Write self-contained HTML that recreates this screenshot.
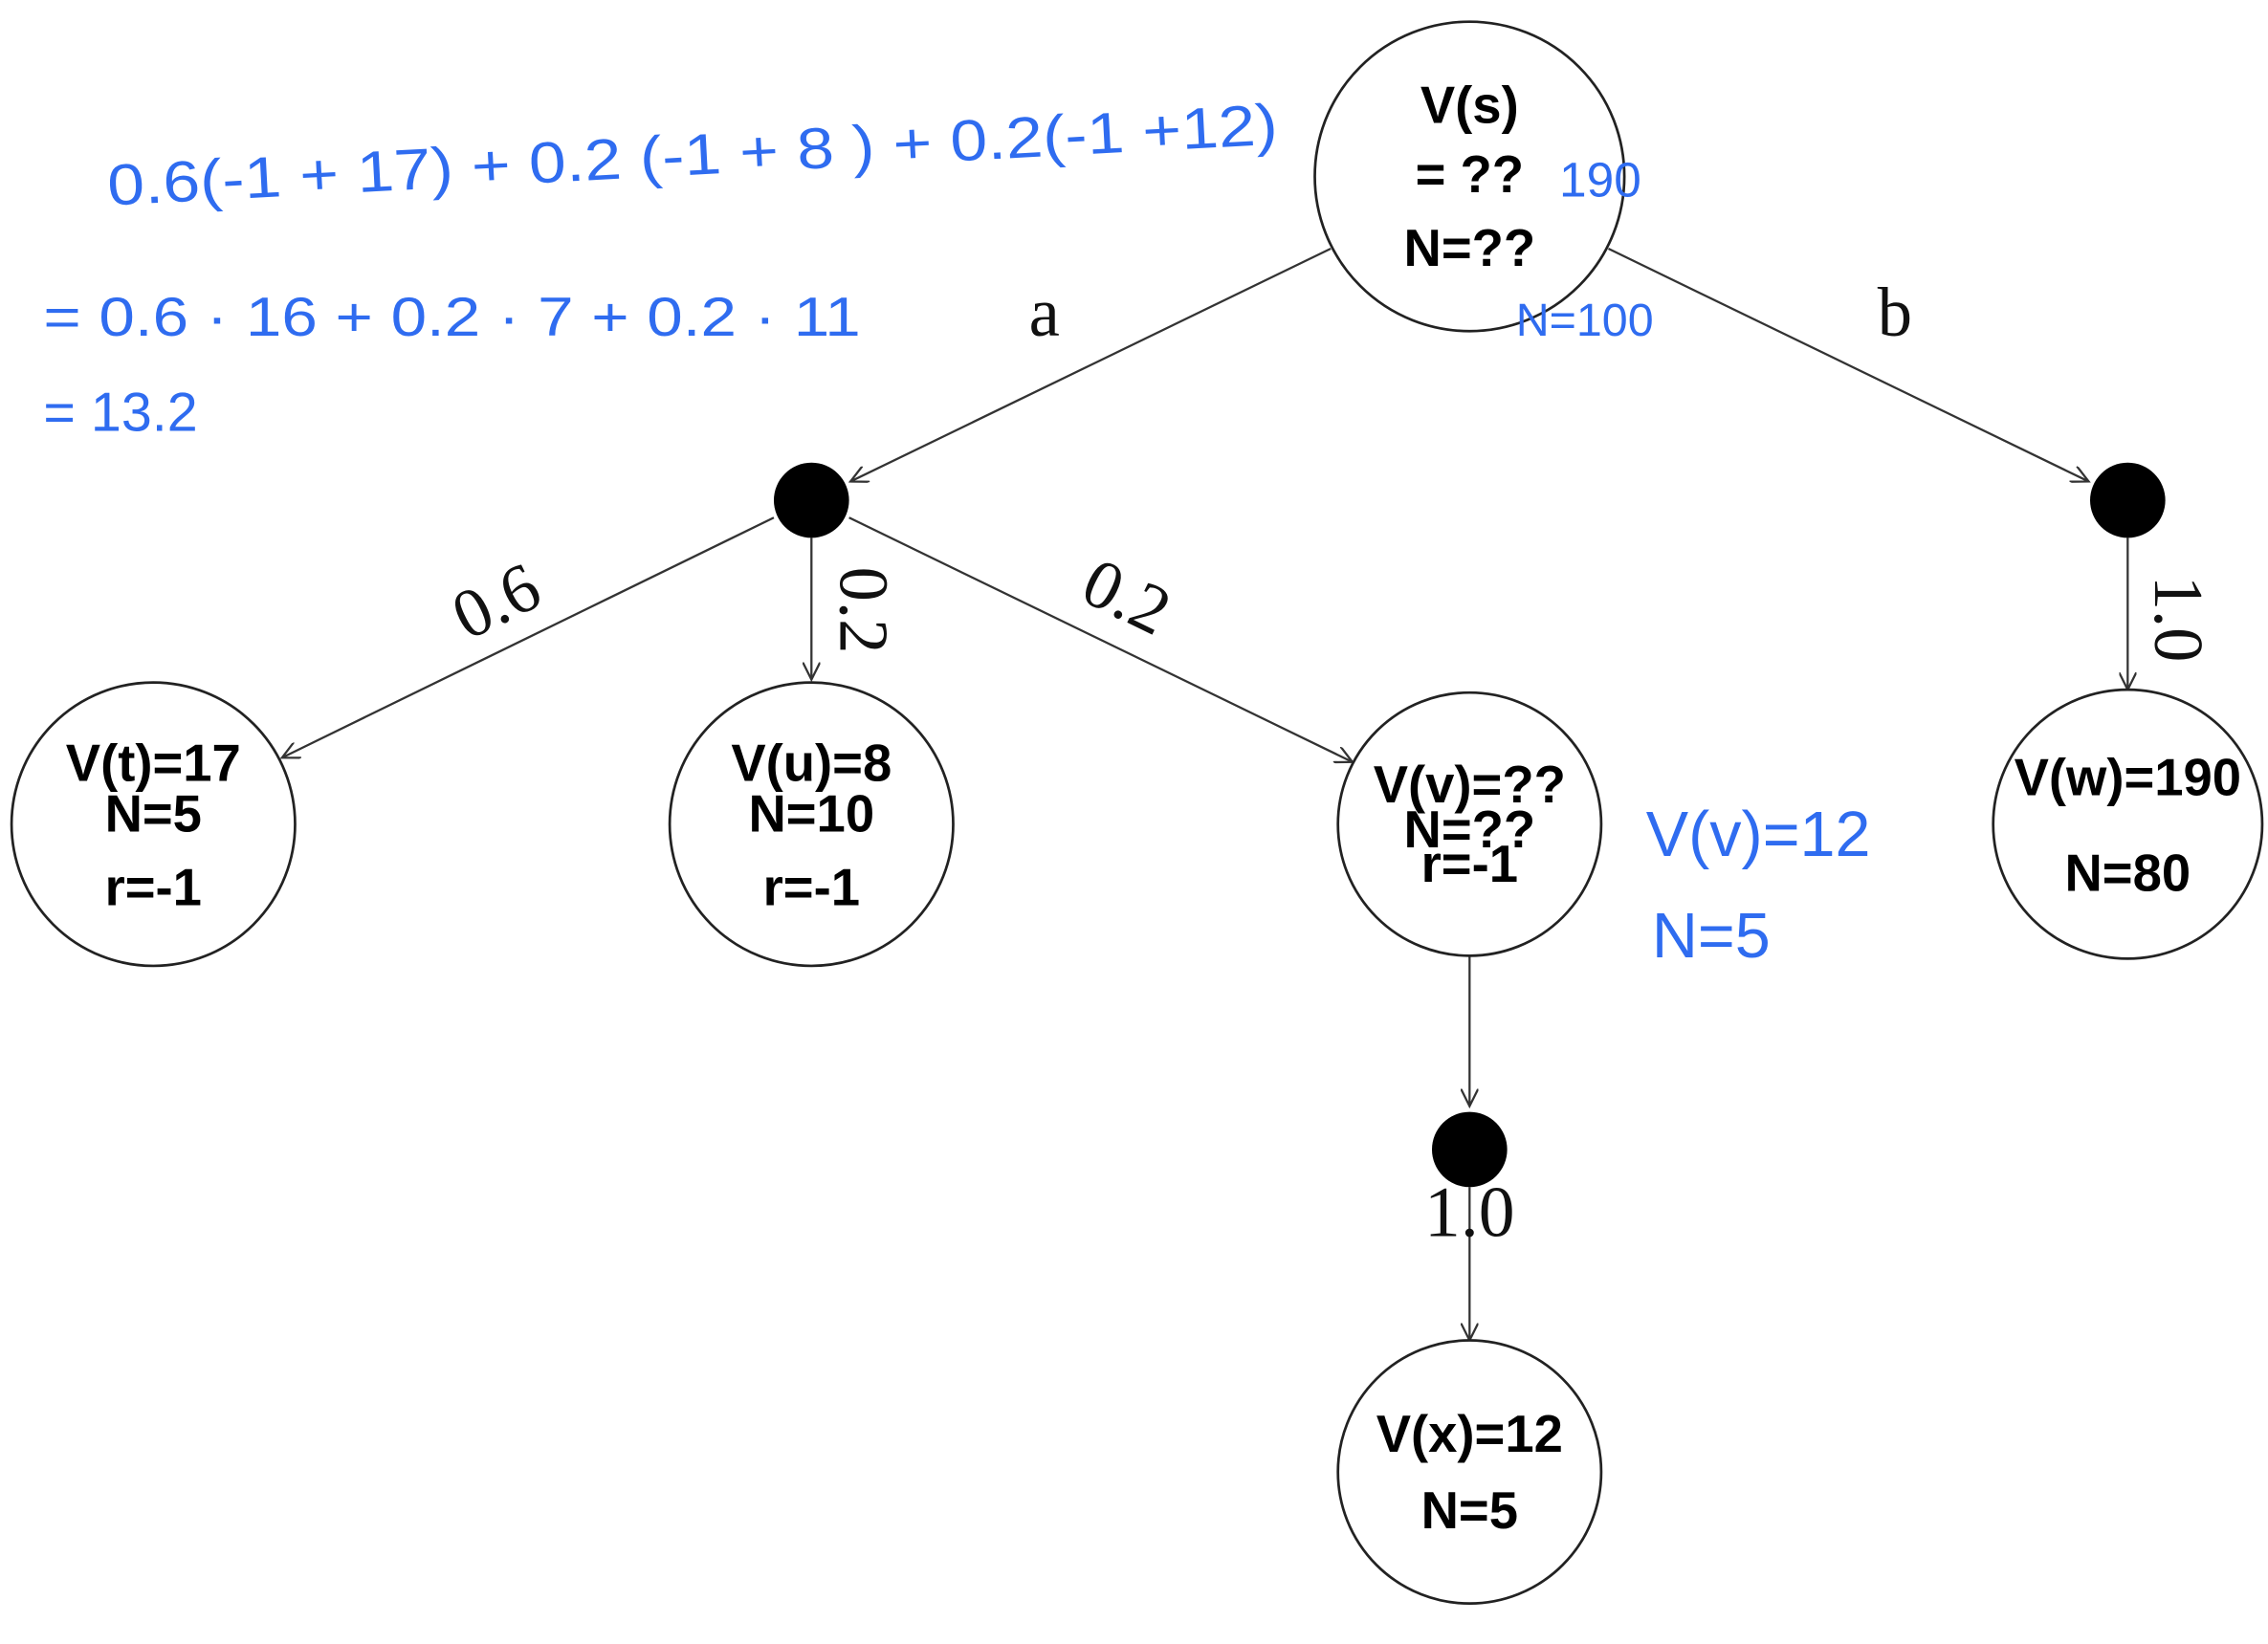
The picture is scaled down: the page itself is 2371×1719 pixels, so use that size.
<!DOCTYPE html>
<html><head><meta charset="utf-8"><style>
html,body{margin:0;padding:0;background:#fff;}
svg{display:block;}
.n{font-family:"Liberation Sans",sans-serif;font-weight:bold;font-size:36px;fill:#000;text-anchor:middle;}
.l{font-family:"Liberation Serif",serif;font-size:48px;fill:#111;text-anchor:middle;}
.h{font-family:"Liberation Sans",sans-serif;fill:#2f6cf0;font-size:34px;}
</style></head><body>
<svg width="2371" height="1719" viewBox="0 0 1568 1137" preserveAspectRatio="none">
<defs><marker id="ar" markerWidth="14" markerHeight="12" refX="12" refY="6" orient="auto" markerUnits="userSpaceOnUse"><path d="M0,0 L12,6 L0,12" fill="none" stroke="#333" stroke-width="1.5"/></marker></defs>
<g stroke="#333" stroke-width="1.5" fill="none">
<line x1="920" y1="172" x2="588" y2="333" marker-end="url(#ar)"/>
<line x1="1112" y1="172" x2="1444" y2="333" marker-end="url(#ar)"/>
<line x1="535" y1="358" x2="195" y2="524" marker-end="url(#ar)"/>
<line x1="561" y1="372" x2="561" y2="470" marker-end="url(#ar)"/>
<line x1="587" y1="358" x2="935" y2="527" marker-end="url(#ar)"/>
<line x1="1471" y1="372" x2="1471" y2="477" marker-end="url(#ar)"/>
<line x1="1016" y1="661" x2="1016" y2="765" marker-end="url(#ar)"/>
<line x1="1016" y1="821" x2="1016" y2="927" marker-end="url(#ar)"/>
</g>
<g fill="#fff" stroke="#222" stroke-width="1.8">
<ellipse cx="1016" cy="122" rx="107" ry="107"/>
<circle cx="106" cy="570" r="98"/>
<circle cx="561" cy="570" r="98"/>
<ellipse cx="1016" cy="570" rx="91" ry="91"/>
<ellipse cx="1471" cy="570" rx="93" ry="93"/>
<ellipse cx="1016" cy="1018" rx="91" ry="91"/>
</g>
<g fill="#000">
<circle cx="561" cy="346" r="26"/>
<circle cx="1471" cy="346" r="26"/>
<circle cx="1016" cy="795" r="26"/>
</g>
<g class="n">
<text x="1016" y="85">V(s)</text>
<text x="1016" y="133">= ??</text>
<text x="1016" y="184">N=??</text>
<text x="106" y="540">V(t)=17</text>
<text x="106" y="575">N=5</text>
<text x="106" y="626">r=-1</text>
<text x="561" y="540">V(u)=8</text>
<text x="561" y="575">N=10</text>
<text x="561" y="626">r=-1</text>
<text x="1016" y="555">V(v)=??</text>
<text x="1016" y="586">N=??</text>
<text x="1016" y="610">r=-1</text>
<text x="1471" y="550">V(w)=190</text>
<text x="1471" y="616">N=80</text>
<text x="1016" y="1004">V(x)=12</text>
<text x="1016" y="1057">N=5</text>
</g>
<g class="l">
<text x="722" y="232">a</text>
<text x="1310" y="232">b</text>
<text transform="translate(350,430) rotate(-26)">0.6</text>
<text transform="translate(581,422) rotate(90)">0.2</text>
<text transform="translate(772,427) rotate(26)">0.2</text>
<text transform="translate(1490,428) rotate(90)">1.0</text>
<text x="1016" y="855" font-size="50">1.0</text>
</g>
<g class="h">
<text x="75" y="142" transform="rotate(-3 75 142)" font-size="40" textLength="810" lengthAdjust="spacingAndGlyphs">0.6(-1 + 17) + 0.2 (-1 + 8 ) + 0.2(-1 +12)</text>
<text x="30" y="232" font-size="38" textLength="565" lengthAdjust="spacingAndGlyphs">= 0.6 · 16 + 0.2 · 7 + 0.2 · 11</text>
<text x="30" y="298" font-size="38">= 13.2</text>
<text x="1078" y="136" font-size="34">190</text>
<text x="1048" y="232" font-size="32">N=100</text>
<text x="1138" y="592" font-size="44">V(v)=12</text>
<text x="1142" y="662" font-size="44">N=5</text>
</g>
</svg>
</body></html>
